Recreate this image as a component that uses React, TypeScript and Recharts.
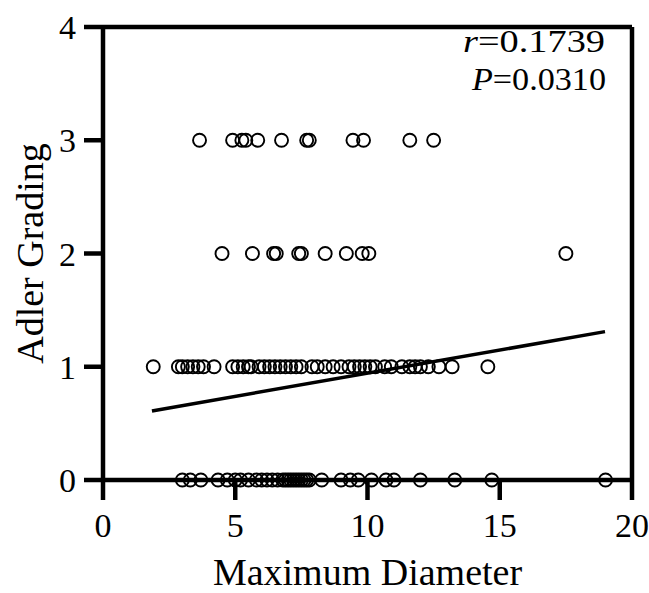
import React from 'react';
import { ScatterChart, Scatter, XAxis, YAxis, ReferenceLine } from 'recharts';

// Maximum diameter readings, grouped by Adler grade
const grade3 = [3.65, 4.9, 5.25, 5.4, 5.85, 6.75, 7.7, 7.8, 9.45, 9.85, 11.6, 12.5];
const grade2 = [4.5, 5.65, 6.45, 6.55, 7.4, 7.5, 8.4, 9.2, 9.8, 10.05, 17.5];
const grade1 = [
  1.9, 2.85, 3.0, 3.2, 3.4, 3.6, 3.8, 4.2, 4.9, 5.1, 5.3, 5.5, 5.6, 5.9, 6.1, 6.3, 6.5,
  6.7, 6.9, 7.1, 7.3, 7.5, 7.9, 8.1, 8.4, 8.7, 9.0, 9.3, 9.5, 9.7, 9.9, 10.1, 10.3,
  10.65, 10.9, 11.3, 11.6, 11.8, 12.0, 12.3, 12.7, 13.2, 14.55,
];
const grade0 = [
  3.0, 3.3, 3.7, 4.35, 4.7, 5.0, 5.2, 5.5, 5.8, 6.0, 6.2, 6.4, 6.6, 6.8, 6.9, 7.0, 7.1,
  7.2, 7.3, 7.4, 7.5, 7.6, 7.7, 7.8, 8.27, 9.0, 9.35, 9.65, 10.15, 10.7, 11.0, 12.0,
  13.3, 14.7, 19.0,
];
// regression line end points
const fitX = [1.85, 18.98];
const fitY = [0.61, 1.31];

const xTicks = [0, 5, 10, 15, 20];
const yTicks = [0, 1, 2, 3, 4];

const FONT = '"Liberation Serif", "Times New Roman", serif';

const toPoints = (xs: number[], g: number) => xs.map(x => ({ x, y: g }));
const points = [
  ...toPoints(grade0, 0),
  ...toPoints(grade1, 1),
  ...toPoints(grade2, 2),
  ...toPoints(grade3, 3),
];
const fitLine = fitX.map((x, i) => ({ x, y: fitY[i] }));

const OpenCircle = (p: any) => (
  <circle cx={p.cx} cy={p.cy} r={6.5} fill="none" stroke="#000" strokeWidth={1.9} />
);

export default function App() {
  const axisStroke = { stroke: '#000', strokeWidth: 4.5 };
  return (
    <div style={{ position: 'absolute', left: 0, top: 0, width: 649, height: 593, background: '#fff' }}>
      <ScatterChart width={649} height={593} margin={{ top: 27, right: 17, left: 13, bottom: 0 }}>
        <XAxis
          type="number"
          dataKey="x"
          domain={[0, 20]}
          ticks={xTicks}
          axisLine={axisStroke}
          tickLine={axisStroke}
          tickSize={20}
          tickMargin={13}
          height={113}
          tick={{ fontSize: 34, fill: '#000', fontFamily: FONT }}
          label={{
            value: 'Maximum Diameter',
            position: 'insideBottom',
            offset: 8,
            style: { fontSize: 38, fill: '#000', fontFamily: FONT },
          }}
        />
        <YAxis
          type="number"
          dataKey="y"
          domain={[0, 4]}
          ticks={yTicks}
          axisLine={axisStroke}
          tickLine={axisStroke}
          tickSize={19}
          tickMargin={8}
          width={90}
          tick={{ fontSize: 34, fill: '#000', fontFamily: FONT }}
          label={{
            value: 'Adler Grading',
            angle: -90,
            position: 'center',
            dx: -28,
            style: { fontSize: 38, fill: '#000', fontFamily: FONT, textAnchor: 'middle' },
          }}
        />
        <ReferenceLine y={4} stroke="#000" strokeWidth={4.5} />
        <ReferenceLine x={20} stroke="#000" strokeWidth={4.5} />
        <Scatter data={points} shape={OpenCircle} isAnimationActive={false} />
        <Scatter
          data={fitLine}
          line={{ stroke: '#000', strokeWidth: 3.5 }}
          shape={() => <g />}
          isAnimationActive={false}
        />
      </ScatterChart>
      <svg width={649} height={593} style={{ position: 'absolute', left: 0, top: 0, pointerEvents: 'none' }}>
        <text x={463} y={52} fontSize={32} fontFamily={FONT} fill="#000" textLength={142} lengthAdjust="spacingAndGlyphs">
          <tspan fontStyle="italic">r</tspan>=0.1739
        </text>
        <text x={472} y={90} fontSize={32} fontFamily={FONT} fill="#000" textLength={134} lengthAdjust="spacingAndGlyphs">
          <tspan fontStyle="italic">P</tspan>=0.0310
        </text>
      </svg>
    </div>
  );
}
